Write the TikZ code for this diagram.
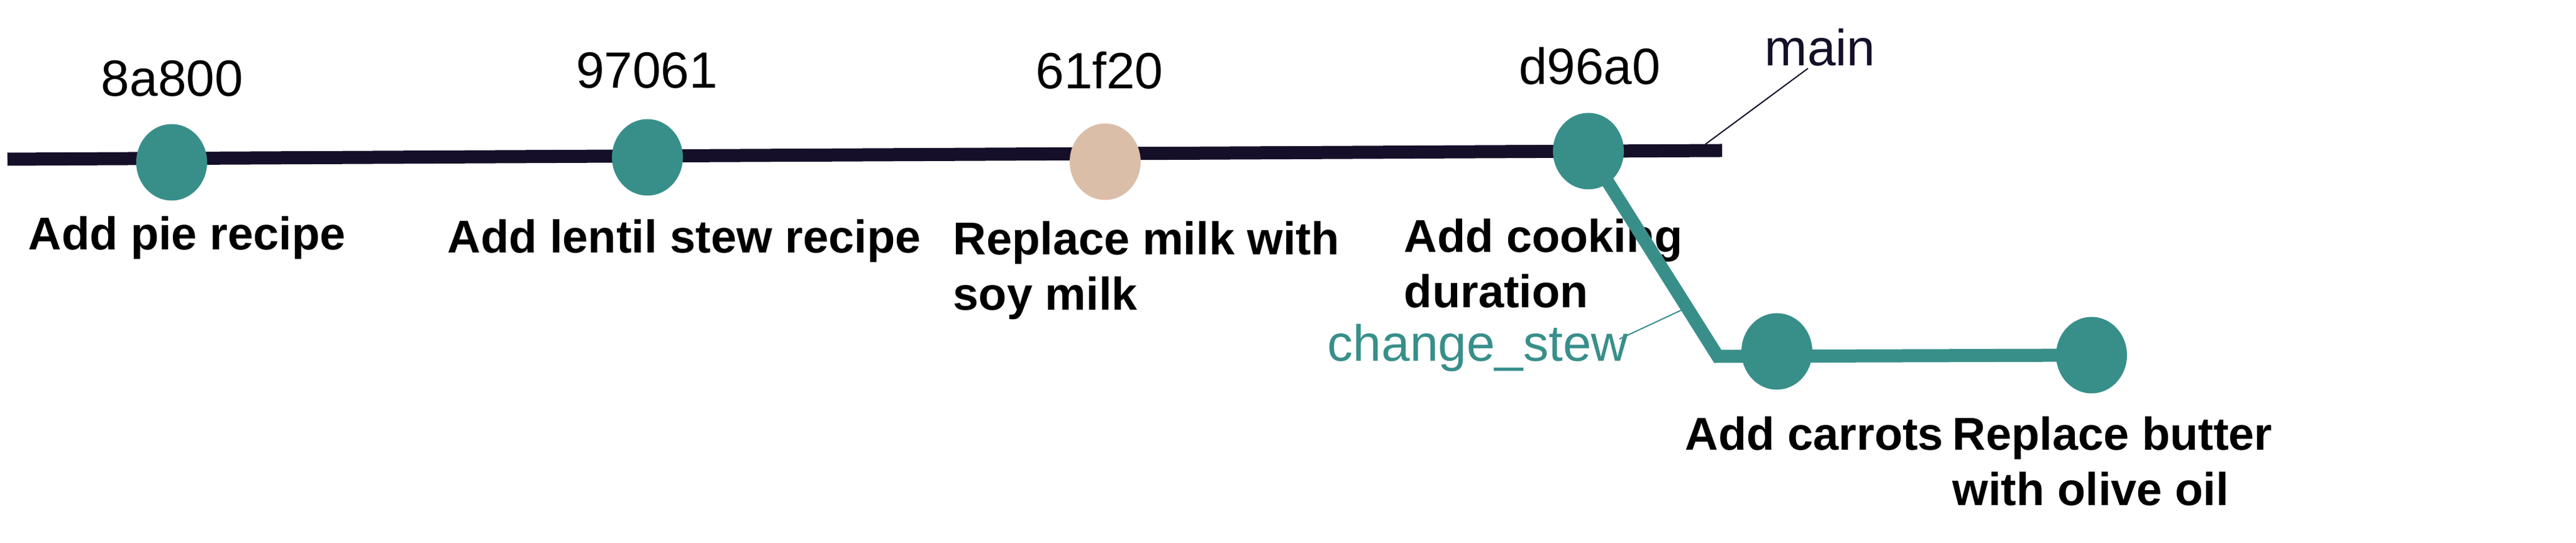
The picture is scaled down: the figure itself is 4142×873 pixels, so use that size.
\documentclass[tikz,border=0pt]{standalone}
\usepackage{fontspec}
\setmainfont{Liberation Sans}
\usetikzlibrary{shapes.geometric,backgrounds}
\definecolor{tealc}{HTML}{388F8A}
\definecolor{navyc}{HTML}{160F29}
\definecolor{beigec}{HTML}{DBBEA8}
\begin{document}
\begin{tikzpicture}[x=0.25pt,y=-0.25pt,
  commit/.style={ellipse,fill=tealc,draw=none,minimum width=28.5pt,minimum height=30.75pt,inner sep=0pt},
  hashlbl/.style={font=\fontsize{20.5}{24.6}\selectfont,inner sep=0pt,anchor=base},
  msg/.style={font=\bfseries\fontsize{18.5}{22.25}\selectfont,inner sep=0pt,anchor=base west},
  branchlbl/.style={font=\fontsize{20.5}{24.6}\selectfont,inner sep=0pt},
  thickline/.style={line width=5.25pt},
  leader/.style={line width=0.5pt}]
\useasboundingbox (0,0) rectangle (4142,873);

% commits
\node[commit] (c1) at (276,261) {};
\node[commit] (c2) at (1041,253) {};
\node[commit,fill=beigec] (c3) at (1777,260) {};
\node[commit] (c4) at (2554,243) {};
\node[commit] (c5) at (2857,565) {};
\node[commit] (c6) at (3363,571) {};

% hashes
\node[hashlbl] (h1) at (277,155) {8a800};
\node[hashlbl] (h2) at (1040,142) {97061};
\node[hashlbl] (h3) at (1768,143) {61f20};
\node[hashlbl] (h4) at (2556,136) {d96a0};

% branch labels
\node[branchlbl,text=navyc,anchor=base west] (lmain) at (2837,106) {main};
\node[branchlbl,text=tealc,anchor=base east] (lstew) at (2619,581) {change\_stew};

\coordinate (mstart) at (12,256);
\coordinate (mend) at (2769,242);
\coordinate (bend) at (2762,573);
\coordinate (mlead) at (2907,110);
\coordinate (mtip) at (2742,232);
\coordinate (slead) at (2604,545);
\coordinate (stip) at (2707,497);

\begin{pgfonlayer}{background}
  \node[msg] (m1) at (45,402) {Add pie recipe};
  \node[msg] (m2) at (719,407) {Add lentil stew recipe};
  \node[msg] (m3) at (1532,410) {\begin{tabular}[t]{@{}l@{}}Replace milk with\\soy milk\end{tabular}};
  \node[msg] (m4) at (2257,406) {\begin{tabular}[t]{@{}l@{}}Add cooking\\duration\end{tabular}};
  \node[msg] (m5) at (2709,724) {Add carrots};
  \node[msg] (m6) at (3139,724) {\begin{tabular}[t]{@{}l@{}}Replace butter\\with olive oil\end{tabular}};
  \draw[navyc,thickline] (mstart) -- (mend);
  \draw[tealc,thickline,line join=miter] (c4.center) -- (bend) -- (c6.center);
\end{pgfonlayer}

\draw[navyc,leader] (mlead) -- (mtip);
\draw[tealc,leader] (slead) -- (stip);
\end{tikzpicture}
\end{document}
